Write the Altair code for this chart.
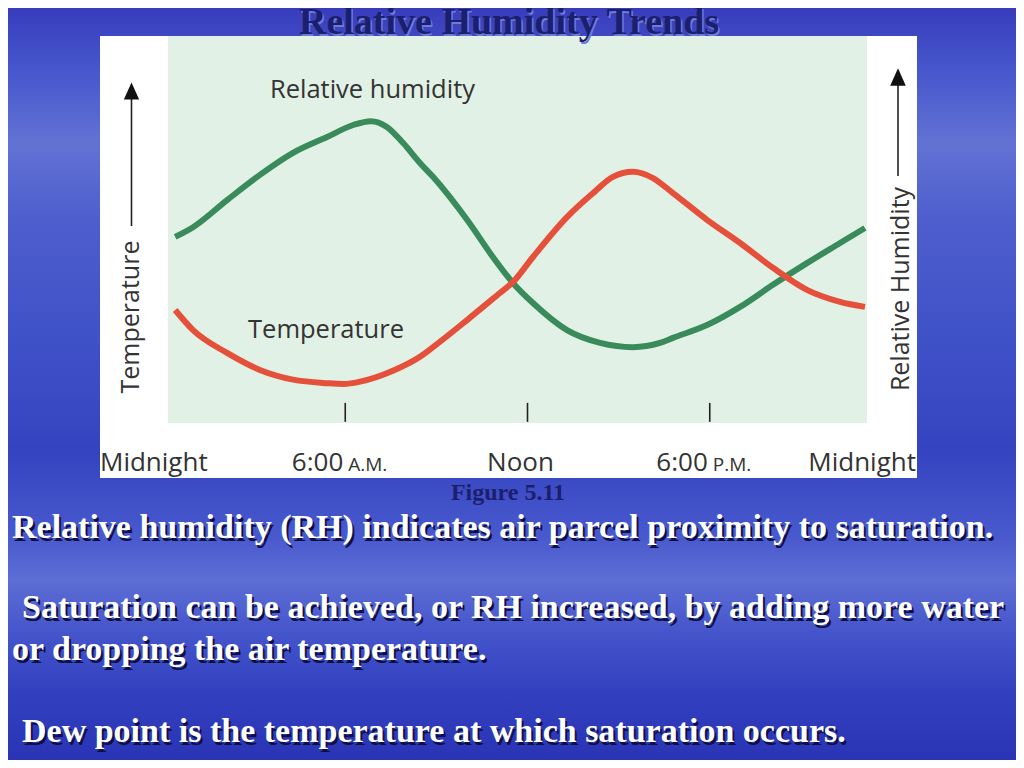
import altair as alt
import pandas as pd

# ---------------- data ----------------
rh_hours = [0.40, 0.99, 2.11, 3.19, 4.28, 5.40, 6.26, 6.85, 7.37, 7.90, 8.46, 8.89,
            10.01, 10.86, 11.52, 12.18, 13.30, 14.39, 15.47, 16.36, 16.79, 17.91,
            19.00, 20.08, 21.20, 22.29, 23.11]
rh_values = [48.1, 50.6, 57.6, 64.1, 69.8, 73.9, 77.0, 78.0, 76.5, 72.4, 67.2, 63.6,
             52.5, 42.9, 36.2, 31.0, 24.0, 20.7, 19.6, 20.7, 22.0, 25.3,
             30.0, 35.7, 41.3, 46.5, 50.4]
temp_hours = [0.40, 0.99, 2.11, 3.19, 4.28, 5.40, 5.95, 6.49, 7.57, 8.46, 8.89, 10.01,
              11.09, 11.52, 12.18, 13.30, 14.16, 14.81, 15.47, 16.13, 16.79, 17.91,
              19.00, 20.08, 21.20, 22.29, 23.11]
temp_values = [29.2, 24.0, 18.1, 13.7, 11.2, 10.3, 10.1, 10.7, 13.5, 17.1, 19.6, 26.6,
               33.6, 36.4, 42.9, 53.2, 59.4, 63.6, 64.9, 63.3, 59.4, 52.5,
               46.5, 40.1, 34.4, 31.3, 30.0]
series_names = ["Relative humidity", "Temperature"]
series_colors = ["#3a8b5c", "#e5503b"]
tick_hours = [6, 12, 18]

title_text = "Relative Humidity Trends"
figure_caption = "Figure 5.11"
body_lines = [
    "Relative humidity (RH) indicates air parcel proximity to saturation.",
    "Saturation can be achieved, or RH increased, by adding more water",
    "or dropping the air temperature.",
    "Dew point is the temperature at which saturation occurs.",
]

# ---------------- tables ----------------
lines_df = pd.concat([
    pd.DataFrame({"series": series_names[0], "hour": rh_hours, "value": rh_values}),
    pd.DataFrame({"series": series_names[1], "hour": temp_hours, "value": temp_values}),
])
ticks_df = pd.DataFrame({"hour": tick_hours})
one = pd.DataFrame({"k": [0]})

W, H = 700, 387
xs = alt.Scale(domain=[0, 24], range=[-5, 724])
ys = alt.Scale(domain=[0, 100])
X = lambda: alt.X("hour:Q", scale=xs, axis=None)

LABEL_FONT = "Open Sans"
SERIF = "Liberation Serif"
INK = "#333333"

# ---------------- decoration ----------------
bg = alt.Chart(one).mark_rect(
    color=alt.Gradient(
        gradient="linear", x1=0, y1=0, x2=0, y2=1,
        stops=[
            alt.GradientStop(offset=0.0, color="#383cbc"),
            alt.GradientStop(offset=0.08, color="#4656cc"),
            alt.GradientStop(offset=0.18, color="#6272d4"),
            alt.GradientStop(offset=0.28, color="#4e5ecd"),
            alt.GradientStop(offset=0.43, color="#4052c8"),
            alt.GradientStop(offset=0.59, color="#3444c0"),
            alt.GradientStop(offset=0.70, color="#4858cd"),
            alt.GradientStop(offset=0.76, color="#5e6ed4"),
            alt.GradientStop(offset=0.83, color="#4555cb"),
            alt.GradientStop(offset=0.91, color="#3240bf"),
            alt.GradientStop(offset=1.0, color="#2a34b5"),
        ],
    )
).encode(x=alt.value(-160), x2=alt.value(848), y=alt.value(-28), y2=alt.value(724))

white_box = alt.Chart(one).mark_rect(color="#ffffff").encode(
    x=alt.value(-68), x2=alt.value(749), y=alt.value(0), y2=alt.value(442))
green_box = alt.Chart(one).mark_rect(color="#e2f1e5").encode(
    x=alt.value(0), x2=alt.value(699), y=alt.value(0), y2=alt.value(H))

ticks = alt.Chart(ticks_df).mark_rule(color="#222222", strokeWidth=1.6).encode(
    x=X(), y=alt.Y("y0:Q", scale=ys, axis=None), y2="y1:Q"
).transform_calculate(y0="0.3", y1="5.2")

curves = alt.Chart(lines_df).mark_line(strokeWidth=6, interpolate="monotone", strokeCap="butt").encode(
    x=X(),
    y=alt.Y("value:Q", scale=ys, axis=None),
    color=alt.Color("series:N", scale=alt.Scale(domain=series_names, range=series_colors), legend=None),
    detail="series:N",
)

# axis arrows
arrow_l = alt.Chart(one).mark_rule(color="#222222", strokeWidth=1.6).encode(
    x=alt.value(-36.5), y=alt.value(58), y2=alt.value(190))
head_l = alt.Chart(one).mark_point(shape="M-0.9,1L0,-1L0.9,1Z", filled=True, opacity=1,
                                   color="#111111", size=289).encode(
    x=alt.value(-36.5), y=alt.value(55))
arrow_r = alt.Chart(one).mark_rule(color="#222222", strokeWidth=1.6).encode(
    x=alt.value(730), y=alt.value(45), y2=alt.value(140))
head_r = alt.Chart(one).mark_point(shape="M-0.9,1L0,-1L0.9,1Z", filled=True, opacity=1,
                                   color="#111111", size=300).encode(
    x=alt.value(730), y=alt.value(41))

def txt(text, x, y, **kw):
    base = dict(font=LABEL_FONT, fontSize=25, color=INK, baseline="alphabetic", align="left")
    base.update(kw)
    return alt.Chart(one).mark_text(text=text, **base).encode(x=alt.value(x), y=alt.value(y))

axis_t = txt("Temperature", -37, 281, angle=270, align="center", baseline="middle")
axis_rh = txt("Relative Humidity", 733, 253, angle=270, align="center", baseline="middle")

# curve labels (placed in data coordinates)
lab_df = pd.DataFrame({"text": series_names, "hour": [3.52, 2.80], "value": [84.0, 22.0]})
curve_labels = alt.Chart(lab_df).mark_text(font=LABEL_FONT, fontSize=25.5, color=INK,
                                           align="left", baseline="alphabetic").encode(
    x=X(), y=alt.Y("value:Q", scale=ys, axis=None), text="text:N")

# time labels under the panel
def time_label(texts, hours, align, dx, size=26):
    d = pd.DataFrame({"text": texts, "hour": hours})
    return alt.Chart(d).mark_text(font=LABEL_FONT, fontSize=size, color=INK, align=align,
                                  baseline="alphabetic", dx=dx).encode(
        x=X(), y=alt.value(435), text="text:N")

t_mid_l = time_label(["Midnight"], [0], "left", -63)
t_mid_r = time_label(["Midnight"], [24], "right", 24)
t_six = time_label(["6:00", "6:00"], [6, 18], "right", -2)
t_ampm = time_label(["A.M.", "P.M."], [6, 18], "left", 3, size=19)
t_noon = time_label(["Noon"], [12], "center", -7)

# slide texts
title = txt(title_text, 341, -2, font=SERIF, fontSize=38, fontWeight="bold",
            color="#1b1f6e", align="center")
title_glow = txt(title_text, 342.5, -0.5, font=SERIF, fontSize=38, fontWeight="bold",
                 color="#6f7cd6", align="center")
caption = txt(figure_caption, 340, 464, font=SERIF, fontSize=24, fontWeight="bold",
              color="#1b1f6e", align="center")

body_pos = [(-156, 502), (-146, 582), (-156, 624), (-146, 706)]
body = []
for line, (bx, by) in zip(body_lines, body_pos):
    body.append(txt(line, bx + 2, by + 2.5, font=SERIF, fontSize=34, fontWeight="bold", color="#0e1045"))
    body.append(txt(line, bx, by, font=SERIF, fontSize=34, fontWeight="bold", color="#ffffff"))

chart = alt.layer(
    bg, white_box, green_box, ticks, curves,
    arrow_l, head_l, arrow_r, head_r, axis_t, axis_rh, curve_labels,
    t_mid_l, t_mid_r, t_six, t_ampm, t_noon,
    title_glow, title, caption, *body,
).properties(
    width=W, height=H,
    padding={"left": 160, "top": 28, "right": 148, "bottom": 337},
    autosize=alt.AutoSizeParams(type="none"),
    background="#3a48c4",
).configure_view(stroke=None)

chart.save("out.html", embed_options={"renderer": "svg", "actions": False})
